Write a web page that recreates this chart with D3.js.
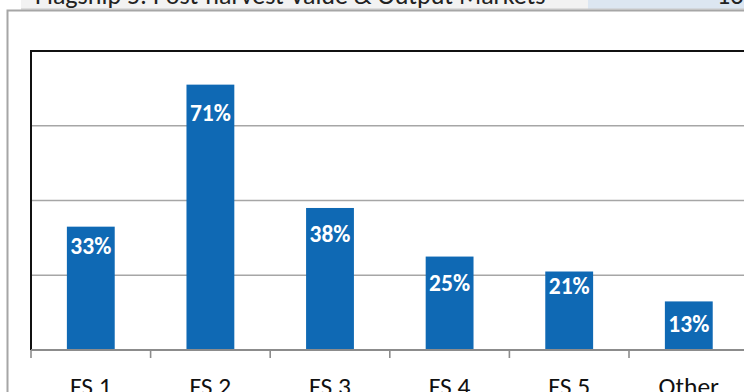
<!DOCTYPE html>
<html>
<head>
<meta charset="utf-8">
<script src="https://cdn.jsdelivr.net/npm/d3@7"></script>
<style>
  html, body { margin: 0; padding: 0; background: #fff; overflow: hidden; }
  svg { display: block; }
</style>
</head>
<body>
<svg id="chart" width="744" height="392"></svg>
<script>
// Share of projects by flagship
const categories = ["FS 1", "FS 2", "FS 3", "FS 4", "FS 5", "Other"];
const shares = [0.33, 0.71, 0.38, 0.25, 0.21, 0.13];
const yTicks = [0, 0.2, 0.4, 0.6, 0.8];

// Spreadsheet row showing above the chart
const rowLabel = "Flagship 5: Post-harvest Value & Output Markets";
const rowValue = "13%";

// Vertical drop of each value label below its bar top (layout)
const labelDrop = [27, 36, 34, 34, 22, 31];

const W = 744, H = 392;
const svg = d3.select("#chart");
const font = "Calibri, Carlito, Lato, 'Open Sans', sans-serif";

// --- spreadsheet strip ---
svg.append("rect").attr("x", 21).attr("y", -2).attr("width", 567).attr("height", 11).attr("fill", "#f2f2f2");
svg.append("rect").attr("x", 588).attr("y", -2).attr("width", 160).attr("height", 11).attr("fill", "#dce6f1");
svg.append("line").attr("x1", 21).attr("x2", W).attr("y1", 9).attr("y2", 9)
  .attr("stroke", "#c8c8c8").attr("stroke-width", 1);
svg.append("text").attr("x", 35).attr("y", 3.5)
  .attr("font-family", font).attr("font-size", 26).attr("fill", "#222")
  .text(rowLabel);
svg.append("text").attr("x", 717).attr("y", 3.5)
  .attr("font-family", font).attr("font-size", 26).attr("fill", "#222")
  .text(rowValue);

// --- chart frame ---
svg.append("path").attr("d", `M7.5,${H + 5} V10.5 H${W + 5}`)
  .attr("fill", "none").attr("stroke", "#a6a6a6").attr("stroke-width", 2);

// --- scales ---
const x = d3.scaleBand().domain(categories).range([31, 748.6])
  .paddingInner(0.6).paddingOuter(0.3);
const y = d3.scaleLinear().domain([0, 0.8]).range([350, 51]);

// gridlines
svg.append("g").selectAll("line")
  .data(yTicks.filter(t => t > 0 && t < 0.8))
  .join("line")
  .attr("x1", 31).attr("x2", W)
  .attr("y1", d => y(d)).attr("y2", d => y(d))
  .attr("stroke", "#a6a6a6").attr("stroke-width", 1.6);

// plot border (left and top)
svg.append("path").attr("d", `M31,${y(0)} V${y(0.8)} H${W + 5}`)
  .attr("fill", "none").attr("stroke", "#111").attr("stroke-width", 2);

// bars
svg.append("g").selectAll("rect")
  .data(categories)
  .join("rect")
  .attr("x", d => x(d))
  .attr("width", x.bandwidth())
  .attr("y", (d, i) => y(shares[i]))
  .attr("height", (d, i) => y(0) - y(shares[i]))
  .attr("fill", "#0f69b4");

// category axis with boundary ticks
const step = x.step();
const bounds = d3.range(categories.length + 1).map(i => 31 + i * step);
const axisG = svg.append("g");
axisG.append("line").attr("x1", 31).attr("x2", W).attr("y1", y(0)).attr("y2", y(0))
  .attr("stroke", "#8c8c8c").attr("stroke-width", 2);
axisG.selectAll("line.tick").data(bounds).join("line").attr("class", "tick")
  .attr("x1", d => d).attr("x2", d => d)
  .attr("y1", y(0)).attr("y2", y(0) + 8)
  .attr("stroke", "#8c8c8c").attr("stroke-width", 1.6);
axisG.selectAll("text").data(categories).join("text")
  .attr("x", d => x(d) + x.bandwidth() / 2)
  .attr("y", 395)
  .attr("text-anchor", "middle")
  .attr("font-family", font).attr("font-size", 25.5).attr("fill", "#111")
  .text(d => d);

// value labels
svg.append("g").selectAll("text")
  .data(categories)
  .join("text")
  .attr("x", d => x(d) + x.bandwidth() / 2)
  .attr("y", (d, i) => y(shares[i]) + labelDrop[i])
  .attr("text-anchor", "middle")
  .attr("font-family", font).attr("font-size", 23.5).attr("font-weight", "bold")
  .attr("fill", "#fff")
  .text((d, i) => Math.round(shares[i] * 100) + "%");
</script>
</body>
</html>
